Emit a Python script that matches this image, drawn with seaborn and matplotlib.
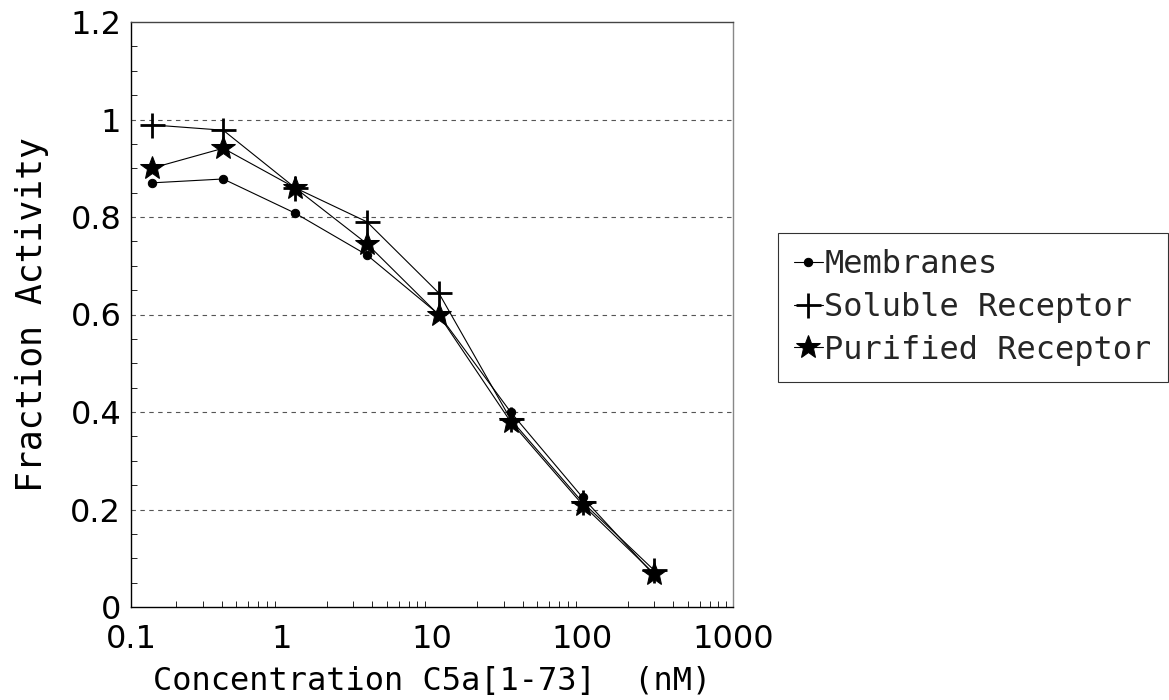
import matplotlib
matplotlib.use("Agg")
import matplotlib.pyplot as plt
import matplotlib.ticker as mticker
import seaborn as sns
import pandas as pd

concentration = [0.137, 0.41, 1.23, 3.7, 11.1, 33.3, 100, 300]
membranes = [0.87, 0.878, 0.808, 0.722, 0.60, 0.40, 0.225, 0.065]
soluble = [0.989, 0.978, 0.86, 0.79, 0.644, 0.385, 0.215, 0.075]
purified = [0.90, 0.941, 0.86, 0.745, 0.599, 0.38, 0.21, 0.068]
series_names = ["Membranes", "Soluble Receptor", "Purified Receptor"]
y_ticks = [0, 0.2, 0.4, 0.6, 0.8, 1.0, 1.2]
y_tick_labels = ["0", "0.2", "0.4", "0.6", "0.8", "1", "1.2"]
x_ticks = [0.1, 1, 10, 100, 1000]
x_tick_labels = ["0.1", "1", "10", "100", "1000"]

rows = []
for name, vals in zip(series_names, [membranes, soluble, purified]):
    for c, v in zip(concentration, vals):
        rows.append({"conc": c, "frac": v, "series": name})
df = pd.DataFrame(rows)

sns.set_theme(style="white")
plt.rcParams["font.family"] = ["DejaVu Sans"]

fig = plt.figure(figsize=(11.69, 7.0), dpi=100)
ax = fig.add_axes([131 / 1169, 1 - 607 / 700, (733 - 131) / 1169, (607 - 22) / 700])

styles = {
    "Membranes": dict(marker="o", markersize=6),
    "Soluble Receptor": dict(marker="+", markersize=18, markeredgewidth=2),
    "Purified Receptor": dict(marker="*", markersize=18),
}
for name in series_names:
    sub = df[df["series"] == name]
    sns.lineplot(data=sub, x="conc", y="frac", ax=ax, color="black", linewidth=0.8,
                 label=name, markeredgecolor="black", markerfacecolor="black",
                 **styles[name])

ax.set_xscale("log")
ax.set_xlim(0.1, 1000)
ax.set_ylim(0, 1.2)
ax.set_xticks(x_ticks)
ax.set_xticklabels(x_tick_labels)
ax.set_yticks(y_ticks)
ax.set_yticklabels(y_tick_labels)
ax.xaxis.set_minor_locator(mticker.LogLocator(base=10, subs=range(2, 10)))
ax.xaxis.set_minor_formatter(mticker.NullFormatter())
ax.yaxis.set_minor_locator(mticker.MultipleLocator(0.05))
ax.tick_params(axis="both", which="major", direction="in", length=6, width=0.8,
               labelsize=23, colors="black")
ax.tick_params(axis="y", which="major", pad=7)
ax.tick_params(axis="x", which="major", pad=12)
ax.tick_params(axis="both", which="minor", direction="in", length=4, width=0.6,
               color="black", left=True, bottom=True)

for y in y_ticks[1:-1]:
    ax.axhline(y, color="#555555", linestyle=(0, (4, 4)), linewidth=0.8, zorder=0)

for s in ["left", "bottom"]:
    ax.spines[s].set_color("black")
    ax.spines[s].set_linewidth(1.0)
ax.spines["top"].set_color("#444444")
ax.spines["top"].set_linewidth(1.0)
ax.spines["right"].set_color("#888888")
ax.spines["right"].set_linewidth(1.0)

mono = ["DejaVu Sans Mono"]
ax.set_xlabel("Concentration C5a[1-73]  (nM)", family=mono, fontsize=23, labelpad=8, color="black")
ax.set_ylabel("Fraction Activity", family=mono, fontsize=25, labelpad=15, color="black")

leg = ax.legend(loc="upper left", bbox_to_anchor=(778 / 1169, 1 - 233 / 700),
                bbox_transform=fig.transFigure, frameon=True, fancybox=False,
                prop={"family": mono, "size": 23}, handlelength=0.9, handletextpad=0.05,
                labelspacing=0.37, borderpad=0.5, borderaxespad=0)
leg.get_frame().set_edgecolor("black")
leg.get_frame().set_linewidth(0.8)

fig.savefig("out.png", dpi=100)
